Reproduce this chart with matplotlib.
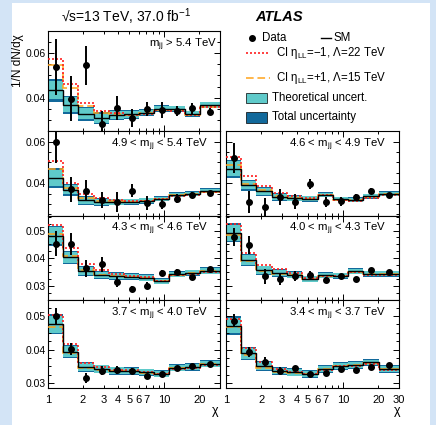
import numpy as np
import matplotlib
matplotlib.use("Agg")
import matplotlib.pyplot as plt
from matplotlib.patches import Rectangle
from matplotlib.lines import Line2D
from matplotlib.ticker import FixedLocator, FixedFormatter, NullFormatter, MultipleLocator, FormatStrFormatter

plt.rcParams['font.family'] = ['Liberation Sans', 'DejaVu Sans']
plt.rcParams['mathtext.fontset'] = 'custom'
plt.rcParams['mathtext.rm'] = 'Liberation Sans'
plt.rcParams['mathtext.it'] = 'Liberation Sans:italic'
plt.rcParams['mathtext.bf'] = 'Liberation Sans:bold'

# chi binning
chi_edges = [1, 1.34, 1.82, 2.46, 3.32, 4.48, 6.05, 8.17, 11.0, 14.9, 20.1, 30]
chi_centres = [1.17, 1.58, 2.14, 2.89, 3.9, 5.26, 7.11, 9.59, 12.9, 17.3, 24.5]

mass_labels = [r"m$_{\rm jj}$ > 5.4 TeV",
               r"4.9 < m$_{\rm jj}$ < 5.4 TeV",
               r"4.6 < m$_{\rm jj}$ < 4.9 TeV",
               r"4.3 < m$_{\rm jj}$ < 4.6 TeV",
               r"4.0 < m$_{\rm jj}$ < 4.3 TeV",
               r"3.7 < m$_{\rm jj}$ < 4.0 TeV",
               r"3.4 < m$_{\rm jj}$ < 3.7 TeV"]

data_y = [
    [0.0536, 0.0397, 0.0545, 0.0286, 0.0356, 0.0310, 0.0350, 0.0345, 0.0342, 0.0354, 0.0339],
    [0.0600, 0.0371, 0.0364, 0.0320, 0.0312, 0.0364, 0.0305, 0.0300, 0.0326, 0.0345, 0.0353],
    [0.0522, 0.0310, 0.0286, 0.0334, 0.0310, 0.0397, 0.0310, 0.0313, 0.0333, 0.0362, 0.0345],
    [0.0452, 0.0452, 0.0364, 0.0379, 0.0316, 0.0289, 0.0301, 0.0348, 0.0352, 0.0331, 0.0360],
    [0.0477, 0.0447, 0.0335, 0.0326, 0.0335, 0.0341, 0.0323, 0.0335, 0.0326, 0.0357, 0.0351],
    [0.0500, 0.0402, 0.0315, 0.0337, 0.0339, 0.0337, 0.0321, 0.0327, 0.0345, 0.0350, 0.0358],
    [0.0486, 0.0394, 0.0364, 0.0337, 0.0344, 0.0327, 0.0330, 0.0342, 0.0340, 0.0348, 0.0354],
]
data_err = [
    [0.0125, 0.0100, 0.0087, 0.0055, 0.0052, 0.0040, 0.0030, 0.0036, 0.0022, 0.0025, 0.0017],
    [0.0104, 0.0060, 0.0050, 0.0040, 0.0048, 0.0032, 0.0032, 0.0025, 0.0020, 0.0015, 0.0012],
    [0.0072, 0.0052, 0.0044, 0.0040, 0.0036, 0.0024, 0.0024, 0.0020, 0.0015, 0.0015, 0.0010],
    [0.0045, 0.0040, 0.0030, 0.0027, 0.0018, 0.0012, 0.0012, 0.0011, 0.0008, 0.0007, 0.0007],
    [0.0033, 0.0033, 0.0027, 0.0022, 0.0018, 0.0013, 0.0010, 0.0008, 0.0007, 0.0006, 0.0006],
    [0.0025, 0.0018, 0.0015, 0.0013, 0.0012, 0.0008, 0.0007, 0.0006, 0.0005, 0.0004, 0.0004],
    [0.0020, 0.0015, 0.0013, 0.0010, 0.0008, 0.0006, 0.0005, 0.0005, 0.0004, 0.0004, 0.0004],
]
sm = [
    [0.0434, 0.0370, 0.0330, 0.0310, 0.0324, 0.0327, 0.0335, 0.0352, 0.0352, 0.0330, 0.0369],
    [0.0425, 0.0368, 0.0318, 0.0310, 0.0310, 0.0310, 0.0316, 0.0326, 0.0345, 0.0349, 0.0364],
    [0.0470, 0.0390, 0.0362, 0.0334, 0.0329, 0.0326, 0.0345, 0.0324, 0.0321, 0.0337, 0.0349],
    [0.0482, 0.0404, 0.0355, 0.0340, 0.0336, 0.0334, 0.0330, 0.0318, 0.0342, 0.0348, 0.0355],
    [0.0492, 0.0395, 0.0357, 0.0347, 0.0341, 0.0326, 0.0339, 0.0337, 0.0353, 0.0344, 0.0344],
    [0.0475, 0.0394, 0.0348, 0.0342, 0.0337, 0.0336, 0.0332, 0.0328, 0.0346, 0.0348, 0.0358],
    [0.0471, 0.0389, 0.0351, 0.0336, 0.0332, 0.0327, 0.0342, 0.0351, 0.0354, 0.0362, 0.0342],
]
theory_unc = [
    [0.0040, 0.0033, 0.0025, 0.0020, 0.0016, 0.0014, 0.0012, 0.0012, 0.0011, 0.0011, 0.0012],
    [0.0040, 0.0022, 0.0018, 0.0015, 0.0013, 0.0012, 0.0011, 0.0010, 0.0010, 0.0010, 0.0010],
    [0.0035, 0.0020, 0.0017, 0.0014, 0.0012, 0.0011, 0.0010, 0.0009, 0.0009, 0.0009, 0.0010],
    [0.0030, 0.0020, 0.0015, 0.0012, 0.0011, 0.0010, 0.0010, 0.0009, 0.0009, 0.0009, 0.0010],
    [0.0028, 0.0018, 0.0014, 0.0012, 0.0011, 0.0010, 0.0009, 0.0009, 0.0009, 0.0009, 0.0009],
    [0.0025, 0.0017, 0.0013, 0.0011, 0.0010, 0.0010, 0.0009, 0.0009, 0.0009, 0.0009, 0.0009],
    [0.0023, 0.0016, 0.0013, 0.0010, 0.0010, 0.0009, 0.0009, 0.0009, 0.0009, 0.0008, 0.0009],
]
total_unc = [
    [0.0050, 0.0040, 0.0032, 0.0026, 0.0022, 0.0019, 0.0016, 0.0015, 0.0014, 0.0013, 0.0014],
    [0.0050, 0.0028, 0.0023, 0.0019, 0.0016, 0.0015, 0.0014, 0.0012, 0.0012, 0.0012, 0.0012],
    [0.0044, 0.0025, 0.0021, 0.0017, 0.0015, 0.0014, 0.0012, 0.0011, 0.0011, 0.0011, 0.0012],
    [0.0036, 0.0024, 0.0018, 0.0015, 0.0013, 0.0012, 0.0012, 0.0011, 0.0011, 0.0011, 0.0012],
    [0.0034, 0.0022, 0.0017, 0.0014, 0.0013, 0.0012, 0.0011, 0.0011, 0.0011, 0.0011, 0.0011],
    [0.0030, 0.0020, 0.0016, 0.0013, 0.0012, 0.0012, 0.0011, 0.0011, 0.0011, 0.0011, 0.0011],
    [0.0028, 0.0019, 0.0015, 0.0012, 0.0012, 0.0011, 0.0011, 0.0011, 0.0011, 0.0010, 0.0011],
]
ci_minus = [  # eta_LL = -1, Lambda = 22 TeV
    [0.0573, 0.0464, 0.0379, 0.0340, 0.0333, 0.0325, 0.0330, 0.0345, 0.0343, 0.0322, 0.0358],
    [0.0507, 0.0400, 0.0350, 0.0328, 0.0320, 0.0314, 0.0314, 0.0324, 0.0340, 0.0344, 0.0356],
    [0.0525, 0.0434, 0.0386, 0.0355, 0.0340, 0.0330, 0.0343, 0.0320, 0.0316, 0.0330, 0.0342],
    [0.0520, 0.0436, 0.0378, 0.0358, 0.0342, 0.0336, 0.0332, 0.0318, 0.0340, 0.0345, 0.0350],
    [0.0525, 0.0420, 0.0375, 0.0361, 0.0347, 0.0328, 0.0338, 0.0336, 0.0350, 0.0341, 0.0341],
    [0.0503, 0.0416, 0.0359, 0.0348, 0.0340, 0.0338, 0.0332, 0.0327, 0.0343, 0.0346, 0.0355],
    [0.0490, 0.0404, 0.0363, 0.0342, 0.0334, 0.0328, 0.0340, 0.0350, 0.0352, 0.0358, 0.0338],
]
ci_plus = [  # eta_LL = +1, Lambda = 15 TeV
    [0.0548, 0.0444, 0.0366, 0.0335, 0.0330, 0.0326, 0.0332, 0.0347, 0.0346, 0.0325, 0.0362],
    [0.0467, 0.0375, 0.0330, 0.0315, 0.0313, 0.0311, 0.0314, 0.0325, 0.0342, 0.0346, 0.0360],
    [0.0487, 0.0398, 0.0368, 0.0338, 0.0331, 0.0325, 0.0343, 0.0321, 0.0318, 0.0334, 0.0346],
    [0.0488, 0.0408, 0.0358, 0.0341, 0.0336, 0.0333, 0.0330, 0.0318, 0.0341, 0.0347, 0.0353],
    [0.0485, 0.0392, 0.0355, 0.0345, 0.0340, 0.0326, 0.0338, 0.0337, 0.0352, 0.0343, 0.0343],
    [0.0468, 0.0389, 0.0345, 0.0340, 0.0336, 0.0335, 0.0331, 0.0328, 0.0345, 0.0348, 0.0357],
    [0.0466, 0.0384, 0.0346, 0.0333, 0.0330, 0.0326, 0.0341, 0.0351, 0.0353, 0.0361, 0.0341],
]

y_limits = [(0.0253, 0.0698), (0.0245, 0.0651), (0.0245, 0.0651),
            (0.0250, 0.0554), (0.0250, 0.0554), (0.0285, 0.0548), (0.0285, 0.0548)]

W, H = 436.0, 425.0
# panel boxes in pixels: x0, y0(top), x1, y1(bottom)
boxes = [(48, 31, 220, 131),
         (48, 131, 220, 215.5), (226, 131, 399, 215.5),
         (48, 215.5, 220, 300), (226, 215.5, 399, 300),
         (48, 300, 220, 388), (226, 300, 399, 388)]

c_theo = '#5fcaca'
c_total = '#12699b'

fig = plt.figure(figsize=(W / 100, H / 100), dpi=100)
fig.patch.set_facecolor('#d3e4f6')
fig.add_artist(Rectangle((12 / W, 0), (430 - 12) / W, 1 - 3 / H, transform=fig.transFigure,
                         facecolor='white', edgecolor='none', zorder=-5))

widths = np.diff(chi_edges)
for i in range(7):
    x0, y0, x1, y1 = boxes[i]
    ax = fig.add_axes([x0 / W, 1 - y1 / H, (x1 - x0) / W, (y1 - y0) / H])
    ax.set_xscale('log')
    ax.set_xlim(1, 30)
    ax.set_ylim(*y_limits[i])

    s = np.array(sm[i])
    tu = np.array(theory_unc[i])
    to = np.array(total_unc[i])
    ax.bar(chi_edges[:-1], 2 * to, bottom=s - to, width=widths, align='edge',
           color=c_total, linewidth=0, zorder=1)
    ax.bar(chi_edges[:-1], 2 * tu, bottom=s - tu, width=widths, align='edge',
           color=c_theo, linewidth=0, zorder=2)
    ax.stairs(ci_plus[i], chi_edges, baseline=None, color='#ffa31a', lw=1.1,
              linestyle=(0, (5, 2.5)), zorder=3)
    ax.stairs(ci_minus[i], chi_edges, baseline=None, color='#ff2020', lw=1.2,
              linestyle=(0, (1.2, 1.2)), zorder=4)
    ax.stairs(sm[i], chi_edges, baseline=None, color='black', lw=1.0, zorder=5)
    ax.errorbar(chi_centres, data_y[i], yerr=data_err[i], fmt='o', color='black',
                ms=4, elinewidth=1.4, capsize=0, zorder=6, clip_on=True)

    right_col = x0 > 200
    bottom_row = i >= 5
    ax.text(0.985 if i == 0 else 0.927, 1 - 5.5 / (y1 - y0), mass_labels[i],
            transform=ax.transAxes, ha='right', va='top', fontsize=8.2)

    if i < 3:
        ax.yaxis.set_major_locator(MultipleLocator(0.02))
        ax.yaxis.set_minor_locator(MultipleLocator(0.005))
    else:
        ax.yaxis.set_major_locator(MultipleLocator(0.01))
        ax.yaxis.set_minor_locator(MultipleLocator(0.0025))
    if right_col:
        ax.yaxis.set_major_formatter(NullFormatter())
    else:
        ax.yaxis.set_major_formatter(FormatStrFormatter('%.2f'))

    ax.xaxis.set_major_locator(FixedLocator([1, 10]))
    ax.xaxis.set_minor_locator(FixedLocator([2, 3, 4, 5, 6, 7, 8, 9, 20, 30]))
    if bottom_row:
        ax.xaxis.set_major_formatter(FixedFormatter(['1', '10']))
        last = '30' if right_col else ''
        ax.xaxis.set_minor_formatter(FixedFormatter(['2', '3', '4', '5', '6', '7', '', '', '20', last]))
    else:
        ax.xaxis.set_major_formatter(NullFormatter())
        ax.xaxis.set_minor_formatter(NullFormatter())

    ax.tick_params(which='both', direction='in', top=True, right=True, width=0.7)
    ax.tick_params(which='major', length=4.5)
    ax.tick_params(which='minor', length=2.5)
    ax.tick_params(axis='y', labelsize=7.5, pad=1.5)
    ax.tick_params(axis='x', which='both', labelsize=8, pad=5)
    for sp in ax.spines.values():
        sp.set_linewidth(0.8)

# titles and axis labels
fig.text(126 / W, 1 - 17 / H, r"√s=13 TeV, 37.0 fb$^{-1}$", ha='center', va='center', fontsize=10)
fig.text(255 / W, 1 - 17 / H, "ATLAS", ha='left', va='center', fontsize=10.5,
         fontweight='bold', fontstyle='italic')
fig.text(18 / W, 1 - 61 / H, "1/N dN/dχ", rotation=90, ha='center', va='center', fontsize=8.5)
fig.text(215 / W, 1 - 411 / H, "χ", ha='center', va='center', fontsize=9)
fig.text(397 / W, 1 - 411 / H, "χ", ha='center', va='center', fontsize=9)

# legend drawn by hand in the upper right
fs = 8.3
fig.add_artist(Line2D([252 / W], [1 - 38 / H], marker='o', color='black', ms=4, transform=fig.transFigure))
fig.text(262 / W, 1 - 38 / H, "Data", va='center', fontsize=fs)
fig.add_artist(Line2D([321 / W, 331 / W], [1 - 38 / H] * 2, color='black', lw=1.0, transform=fig.transFigure))
fig.text(333 / W, 1 - 38 / H, "SM", va='center', fontsize=fs)
fig.add_artist(Line2D([246 / W, 270 / W], [1 - 53 / H] * 2, color='#ff2020', lw=1.2,
                      linestyle=(0, (1.2, 1.2)), transform=fig.transFigure))
fig.text(276 / W, 1 - 53 / H, r"CI η$_{\rm LL}$=−1, Λ=22 TeV", va='center', fontsize=fs)
fig.add_artist(Line2D([246 / W, 270 / W], [1 - 78 / H] * 2, color='#ffa31a', lw=1.1,
                      linestyle=(0, (5, 2.5)), transform=fig.transFigure))
fig.text(276 / W, 1 - 78 / H, r"CI η$_{\rm LL}$=+1, Λ=15 TeV", va='center', fontsize=fs)
fig.add_artist(Rectangle((246 / W, 1 - 103 / H), 21 / W, 10 / H, transform=fig.transFigure,
                         facecolor=c_theo, edgecolor='black', lw=0.5))
fig.text(272 / W, 1 - 98 / H, "Theoretical uncert.", va='center', fontsize=fs)
fig.add_artist(Rectangle((246 / W, 1 - 123 / H), 21 / W, 11 / H, transform=fig.transFigure,
                         facecolor=c_total, edgecolor='black', lw=0.5))
fig.text(272 / W, 1 - 117 / H, "Total uncertainty", va='center', fontsize=fs)

fig.savefig('out.png', dpi=100, facecolor=fig.get_facecolor())
